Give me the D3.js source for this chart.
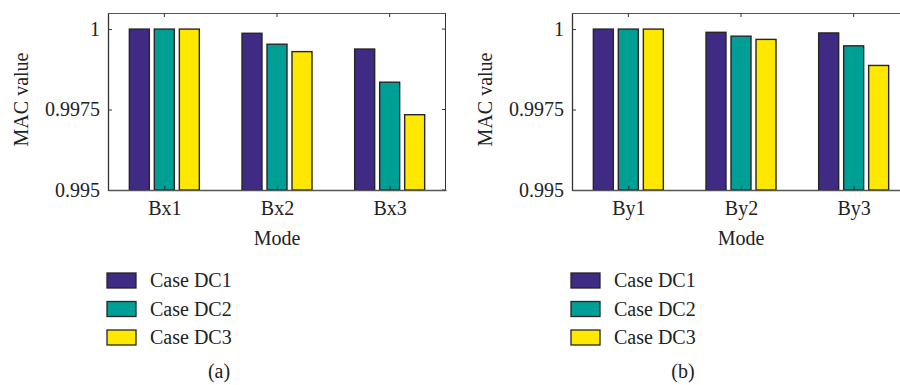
<!DOCTYPE html>
<html>
<head>
<meta charset="utf-8">
<script src="https://cdn.jsdelivr.net/npm/d3@7"></script>
<style>
  body { margin: 0; background: #fff; }
  svg text { font-family: "Liberation Serif", "DejaVu Serif", serif; fill: #222; }
</style>
</head>
<body>
<svg id="chart" width="900" height="385"></svg>
<script>
// data
var caseNames = ["Case DC1", "Case DC2", "Case DC3"];
var caseColors = ["#3f2a84", "#009f96", "#ffe800"];
var yTicks = [0.995, 0.9975, 1];

var modesA = ["Bx1", "Bx2", "Bx3"];
var dc1A = [1.0, 0.99987, 0.99938];
var dc2A = [1.0, 0.99953, 0.99835];
var dc3A = [1.0, 0.99930, 0.99734];

var modesB = ["By1", "By2", "By3"];
var dc1B = [1.0, 0.99990, 0.99988];
var dc2B = [1.0, 0.99978, 0.99948];
var dc3B = [1.0, 0.99968, 0.99887];

var svg = d3.select("#chart");

var panel_w = 338,
    panel_h = 177,
    panel_top = 13,
    font_px = "20px";

function drawPanel(left, modes, series, tag) {
    var g = svg.append("g").attr("transform", "translate(" + left + "," + panel_top + ")");

    var x = d3.scaleLinear().domain([0.5, 3.5]).range([0, panel_w]);
    var y = d3.scaleLinear().domain([0.995, 1.0005]).range([panel_h, 0]);
    // offsets of the 3 bars inside a group (pixels)
    var x1 = d3.scaleBand().domain(caseNames).range([-35, 35]).paddingInner(0.2);

    // bars
    caseNames.forEach(function (c, ci) {
        g.selectAll(".bar-" + ci)
            .data(series[ci])
            .enter().append("rect")
            .attr("class", "bar-" + ci)
            .attr("x", function (d, i) { return x(i + 1) + x1(c); })
            .attr("y", function (d) { return y(d); })
            .attr("width", x1.bandwidth())
            .attr("height", function (d) { return y(0.995) - y(d); })
            .attr("fill", caseColors[ci])
            .attr("stroke", "#262626")
            .attr("stroke-width", 1.4);
    });

    // box (top / right)
    g.append("line").attr("x1", 0).attr("x2", panel_w).attr("y1", 0.5).attr("y2", 0.5)
        .attr("stroke", "#555").attr("stroke-width", 1);
    g.append("line").attr("x1", panel_w - 0.5).attr("x2", panel_w - 0.5).attr("y1", 0).attr("y2", panel_h)
        .attr("stroke", "#333").attr("stroke-width", 1);

    // inner ticks on right and top
    g.selectAll(".rtick").data(yTicks).enter().append("line")
        .attr("class", "rtick")
        .attr("x1", panel_w - 4).attr("x2", panel_w)
        .attr("y1", function (d) { return y(d); }).attr("y2", function (d) { return y(d); })
        .attr("stroke", "#333");
    g.selectAll(".ttick").data([1, 2, 3]).enter().append("line")
        .attr("class", "ttick")
        .attr("x1", function (d) { return x(d); }).attr("x2", function (d) { return x(d); })
        .attr("y1", 0).attr("y2", 4)
        .attr("stroke", "#333");

    // axes
    var yAxis = d3.axisLeft(y).tickValues(yTicks).tickSizeInner(-4).tickSizeOuter(0)
        .tickPadding(8).tickFormat(function (d) { return d === 1 ? "1" : String(d); });
    var ya = g.append("g").call(yAxis);
    ya.select(".domain").attr("stroke", "#333").attr("stroke-width", 1.3);
    ya.selectAll(".tick line").attr("stroke", "#333");
    ya.selectAll("text").style("font-size", font_px).attr("fill", "#222");

    var xAxis = d3.axisBottom(x).tickValues([1, 2, 3]).tickSizeInner(-4).tickSizeOuter(0)
        .tickPadding(11).tickFormat(function (d) { return modes[d - 1]; });
    var xa = g.append("g").attr("transform", "translate(0," + panel_h + ")").call(xAxis);
    xa.select(".domain").attr("stroke", "#555").attr("stroke-width", 1.6);
    xa.selectAll(".tick line").attr("stroke", "#333");
    xa.selectAll("text").style("font-size", font_px).attr("fill", "#222");

    // axis titles
    g.append("text")
        .attr("transform", "translate(" + (-80) + "," + (panel_h / 2 - 2) + ") rotate(-90)")
        .attr("text-anchor", "middle")
        .style("font-size", font_px)
        .text("MAC value");
    g.append("text")
        .attr("x", panel_w / 2).attr("y", panel_h + 55)
        .attr("text-anchor", "middle")
        .style("font-size", font_px)
        .text("Mode");

    // legend
    var lg = svg.append("g").attr("transform", "translate(" + (left - 1) + ",273)");
    var rows = lg.selectAll(".row").data(caseNames).enter().append("g")
        .attr("class", "row")
        .attr("transform", function (d, i) { return "translate(0," + (i * 28.5) + ")"; });
    rows.append("rect")
        .attr("width", 29).attr("height", 15)
        .attr("fill", function (d, i) { return caseColors[i]; })
        .attr("stroke", "#262626").attr("stroke-width", 1.3);
    rows.append("text")
        .attr("x", 43).attr("y", 14)
        .style("font-size", font_px)
        .text(function (d) { return d; });

    // panel tag
    svg.append("text")
        .attr("x", left + 111).attr("y", 378)
        .attr("text-anchor", "middle")
        .style("font-size", font_px)
        .text(tag);
}

drawPanel(108, modesA, [dc1A, dc2A, dc3A], "(a)");
drawPanel(572, modesB, [dc1B, dc2B, dc3B], "(b)");
</script>
</body>
</html>
